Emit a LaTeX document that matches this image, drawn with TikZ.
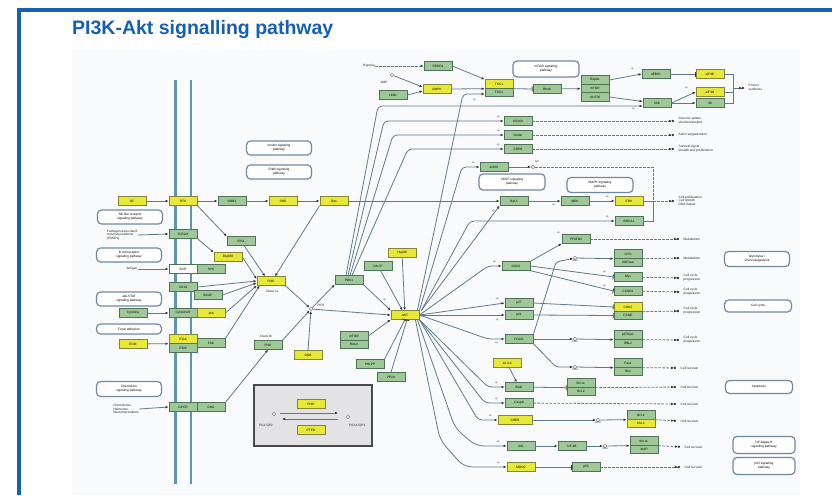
\documentclass[tikz,border=0pt]{standalone}
\usepackage{fontspec}
\setmainfont{Liberation Sans}
\usetikzlibrary{arrows.meta}
\definecolor{frameblue}{HTML}{1560B2}
\definecolor{bgarea}{HTML}{F9FAFC}
\definecolor{gfill}{HTML}{9FC898}
\definecolor{gdraw}{HTML}{4E7358}
\definecolor{yfill}{HTML}{E8E838}
\definecolor{ydraw}{HTML}{85853A}
\definecolor{linec}{HTML}{5F7A8C}
\definecolor{memc}{HTML}{5E97AC}
\definecolor{pwdraw}{HTML}{7089A0}
\definecolor{legfill}{HTML}{E3E3E6}
\definecolor{legdraw}{HTML}{4A4A4E}
\tikzset{
  kfont/.style={font=\fontsize{3.2}{3.7}\selectfont},
  kbox/.style={kfont, line width=0.85pt, minimum width=28pt, minimum height=8.5pt, inner sep=0.3pt},
  kg/.style={kbox, draw=gdraw, fill=gfill},
  ky/.style={kbox, draw=ydraw, fill=yfill},
  kw/.style={kbox, draw=gdraw, fill=white},
  kpw/.style={kfont, draw=pwdraw, line width=1.2pt, rounded corners=4pt, fill=white, minimum width=65pt, minimum height=14pt, align=center, inner sep=1pt},
  klbl/.style={kfont, align=left, inner sep=0.5pt, text=black!85},
  kpl/.style={font=\fontsize{2.6}{3}\selectfont, inner sep=0.2pt, text=black!80},
  kcirc/.style={circle, draw=gray, fill=white, line width=0.5pt, minimum size=3.6pt, inner sep=0pt},
  kdna/.style={kcirc, label={[kpl, yshift=0.5pt]below:DNA}},
  kconn/.style={draw=linec, line width=0.8pt},
  karr/.style={kconn, -{Latex[length=3pt,width=2.6pt,color=black!80]}},
  kinh/.style={kconn, -{Bar[width=5pt,line width=0.8pt,color=black!80]}},
  kdsh/.style={kconn, dash pattern=on 2.5pt off 1.5pt, shorten >=4pt, -{Latex[length=2.6pt,width=2.4pt,color=black!80] Circle[length=2.2pt,color=black!80]}},
}
\begin{document}
\begin{tikzpicture}[x=1pt,y=-1pt]
\useasboundingbox (0,0) rectangle (832,495);
\fill[white] (0,0) rectangle (832,495);
\fill[bgarea] (72,50) rectangle (800,495);
\fill[frameblue] (17,8.5) rectangle (832,12);
\fill[frameblue] (17,8.5) rectangle (21,495);
\node[anchor=base west, inner sep=0, text=frameblue, font=\fontsize{19.5}{22}\selectfont\bfseries] (title) at (72,35) {PI3K-Akt signalling pathway};

% membrane
\draw[memc, line width=2.3pt] (175.5,80) -- (175.5,484);
\draw[memc, line width=2.3pt] (191,80) -- (191,484);

% ---------- left side ----------
\node[ky] (gf) at (132,201) {GF};
\node[ky] (rtk) at (183,201) {RTK};
\node[kg] (grb2) at (232,201) {GRB2};
\node[ky] (sos) at (283,201) {SOS};
\node[ky] (ras) at (334,201) {Ras};
\node[kpw] (insp) at (279,148) {Insulin signaling\\pathway};
\node[kpw] (erbbp) at (279,172) {ErbB signaling\\pathway};
\node[kpw] (tlrp) at (130,217) {Toll-like receptor\\signaling pathway};
\node[klbl] (pamp) at (122,235) {Pathogen-associated\\molecular patterns\\(PAMPs)};
\node[kg] (tlr) at (183,234) {TLR2/4};
\node[kg] (irs) at (241,241) {IRS1};
\node[ky] (myd) at (228,257) {MyD88};
\node[kpw] (bcrp) at (129,255) {B cell receptor\\signaling pathway};
\node[klbl] (antigen) at (132,269) {Antigen};
\node[kw] (bcr) at (183,269) {BCR};
\node[kg] (syk) at (211,269) {SYK};
\node[kg] (cd19) at (183,287) {CD19};
\node[kg] (bcap) at (208,295) {BCAP};
\node[kpw] (jakp) at (129,299) {Jak-STAT\\signaling pathway};
\node[kg] (cyt) at (133,313) {Cytokine};
\node[kg] (cytr) at (183,313) {CytokineR};
\node[ky] (jak) at (211,313) {JAK};
\node[kpw, minimum height=10pt] (fap) at (129,329) {Focal adhesion};
\node[ky] (ecm) at (133,344) {ECM};
\node[ky] (itga) at (183,339) {ITGA};
\node[kg] (itgb) at (183,348) {ITGB};
\node[kg] (fak) at (211,343) {FAK};
\node[ky] (pi3k) at (271,281) {PI3K};
\node[klbl] (cIa) at (272,291) {Class Ia};
\node[kcirc] (pip3) at (311,309) {};
\node[klbl] (pip3l) at (321,305) {PIP3};
\node[klbl] (cIb) at (266,336) {Class Ib};
\node[kg] (pi3kb) at (268,345) {PI3K};
\node[ky] (gnb) at (308,355) {GNB};
\node[kpw, minimum height=15pt] (chemp) at (129,389) {Chemokine\\signaling pathway};
\node[klbl] (chemtxt) at (126,409) {Chemokines,\\Hormones,\\Neurotransmitters};
\node[kg] (gpcr) at (183,407) {GPCR};
\node[kg] (gng) at (211,407) {GNG};

% legend
\node[draw=legdraw, fill=legfill, line width=1.8pt, minimum width=118pt, minimum height=61pt, inner sep=0] (legend) at (313,415.5) {};
\node[ky] (lpi3k) at (311,404) {PI3K};
\node[ky] (lpten) at (311,430) {PTEN};
\node[kcirc] (pL) at (274,414) {};
\node[kcirc] (pR) at (348,417) {};
\node[klbl] (pLl) at (266,426) {PI(4,5)P2};
\node[klbl] (pRl) at (357,426) {PI(3,4,5)P3};
\coordinate (a1) at (280,413);
\coordinate (a2) at (338,413);
\coordinate (b1) at (338,419);
\coordinate (b2) at (282,419);
\draw[karr] (a1) -- (a2);
\draw[karr] (b1) -- (b2);

% ---------- centre ----------
\node[kg] (pdk1) at (349,280) {PDK1};
\node[ky] (akt) at (405,315) {AKT};
\node[ky] (hsp) at (402,253) {Hsp90};
\node[kg] (cdc) at (378,266) {Cdc37};
\node[kg] (mtor2a) at (354,336) {mTOR};
\node[kg] (mtor2b) at (354,344.5) {Rictor};
\node[kg] (phlpp) at (370,364) {PHLPP};
\node[kg] (pp2a) at (391,377) {PP2A};

% ---------- top ----------
\node[klbl] (hyp) at (369,66) {Hypoxia};
\node[kg] (redd) at (438,66) {REDD1};
\node[kcirc] (amp) at (392,75) {};
\node[klbl] (ampl) at (384,82) {AMP};
\node[kg] (lkb) at (393,95) {LKB1};
\node[ky] (ampk) at (437,89) {AMPK};
\node[ky] (tsc1) at (499,84) {TSC1};
\node[kg] (tsc2) at (499,92.5) {TSC2};
\node[kpw, minimum width=66pt, minimum height=16pt] (mtorp) at (546,69) {mTOR signaling\\pathway};
\node[kg] (rheb) at (547,89) {Rheb};
\node[kg] (rap) at (595,80) {Raptor};
\node[kg] (mtor) at (595,88.5) {mTOR};
\node[kg] (gbl) at (595,97) {mLST8};
\node[kg] (ebp) at (656,74) {4EBP1};
\node[ky] (eif4e) at (710,74) {eIF4E};
\node[ky] (eif4b) at (710,92) {eIF4B};
\node[kg] (s6k) at (657,103) {S6K};
\node[kg] (s6) at (710,103) {S6};
\coordinate (br1) at (733,88);
\node[klbl, anchor=west] (prot) at (748,88) {Protein\\synthesis};

\node[kg] (as160) at (518,121) {AS160};
\node[kg] (gird) at (518,135) {Girdin};
\node[kg] (creb1) at (518,149) {CREB};
\node[klbl, anchor=west] (glu) at (678,121) {Glucose uptake\\Vesicle transport};
\node[klbl, anchor=west] (act) at (678,135) {Actin reorganization};
\node[klbl, anchor=west] (surv) at (678,149) {Survival signal\\Growth and proliferation};

\node[kg] (enos) at (494,167) {eNOS};
\node[kcirc] (nodot) at (533,167) {};
\node[kpl] (nol) at (537,162) {NO};
\node[kpw, minimum width=66pt, minimum height=16pt] (vegfp) at (512,182) {VEGF signaling\\pathway};
\node[kpw, minimum width=66pt, minimum height=15pt] (mapkp) at (600,185) {MAPK signaling\\pathway};
\node[kg] (raf) at (514,201) {Raf-1};
\node[kg] (mek) at (575,201) {MEK};
\node[ky] (erk) at (629,201) {ERK};
\node[kg] (brca) at (629,221) {BRCA1};
\coordinate (brmid) at (653,201);
\node[klbl, anchor=west] (prolif) at (678,201) {Cell proliferation\\Cell growth\\DNA Repair};
\node[kg] (pfk) at (576,239) {PFKFB2};
\node[klbl, anchor=west] (meta1) at (683,239) {Metabolism};

% ---------- right middle ----------
\node[kg] (gsk) at (516,266) {GSK3};
\node[kdna] (d1) at (575,258) {};
\node[kg] (gys) at (628,254) {GYS};
\node[kg] (g6p) at (628,262.5) {G6Pase};
\node[klbl, anchor=west] (meta2) at (683,258) {Metabolism};
\node[kpw, minimum height=15pt] (glyp) at (757,259) {Glycolysis /\\Gluconeogenesis};
\node[kg] (myc) at (628,277) {Myc};
\node[kg] (ccnd) at (628,291) {CCND1};
\node[ky] (cdk2) at (628,307) {CDK2};
\node[kg] (ccne) at (628,315.5) {CCNE};
\node[klbl, anchor=west] (cc1) at (683,278) {Cell cycle\\progression};
\node[klbl, anchor=west] (cc2) at (683,292) {Cell cycle\\progression};
\node[klbl, anchor=west] (cc3) at (683,311) {Cell cycle\\progression};
\node[kpw, minimum width=67pt, minimum height=12pt] (ccp) at (758,306) {Cell cycle};
\node[kg] (p27) at (519,303) {p27};
\node[kg] (p21) at (519,315) {p21};
\node[kg] (foxo) at (519,339) {FOXO};
\node[kdna] (d2) at (575,339) {};
\node[kg] (kip) at (628,335) {p27Kip1};
\node[kg] (rbl) at (628,343.5) {RBL2};
\node[klbl, anchor=west] (cc4) at (683,340) {Cell cycle\\progression};
\node[kdna] (d3) at (575,367) {};
\node[kg] (fasl) at (628,363) {FasL};
\node[kg] (bim) at (628,371.5) {Bim};
\node[klbl, anchor=west] (cs1) at (680,368) {Cell survival};
\node[ky] (y1433) at (507,363) {14-3-3};
\node[kg] (bad) at (519,387) {BAD};
\node[kg] (bclxl) at (581,383) {Bcl-xL};
\node[kg] (bcl2) at (581,391.5) {Bcl-2};
\node[klbl, anchor=west] (cs2) at (680,387) {Cell survival};
\node[kpw, minimum width=67pt, minimum height=13pt] (apop) at (759,387) {Apoptosis};
\node[kg] (casp9) at (519,403) {Casp9};
\node[klbl, anchor=west] (cs3) at (680,404) {Cell survival};
\node[ky, minimum width=34pt] (creb) at (515,420) {CREB};
\node[kdna] (d4) at (598,420) {};
\node[kg] (bcl2b) at (641,415) {Bcl-2};
\node[ky] (mcl) at (641,423.5) {Mcl-1};
\node[klbl, anchor=west] (cs4) at (680,421) {Cell survival};
\node[kg] (ikk) at (521,446) {IKK};
\node[kg] (nfkb) at (572,446) {NF-kB};
\node[kdna] (d5) at (605,446) {};
\node[kg] (bclxl2) at (644,441) {Bcl-xL};
\node[kg] (xiap) at (644,449.5) {XIAP};
\node[klbl, anchor=west] (cs5) at (684,447) {Cell survival};
\node[kpw, minimum width=62pt, minimum height=17pt] (nfkbp) at (764,445) {NF-kappa B\\signaling pathway};
\node[ky] (mdm2) at (521,467) {MDM2};
\node[kg] (p53) at (586,467) {p53};
\node[klbl, anchor=west] (cs6) at (684,467) {Cell survival};
\node[kpw, minimum width=62pt, minimum height=17pt] (p53p) at (764,466) {p53 signaling\\pathway};

% ---------- connectors: left ----------
\draw[karr] (gf) -- (rtk);
\draw[karr] (rtk) -- (grb2);
\draw[karr] (grb2) -- (sos);
\draw[karr] (sos) -- (ras);
\draw[karr] (ras) -- (raf);
\draw[karr] (ras.south west) -- ([xshift=4pt]pi3k.north);
\draw[karr] (rtk.south east) -- (irs.north west);
\draw[karr] (irs) -- ([xshift=-6pt]pi3k.north);
\draw[karr] (pamp.east) -- (tlr.west);
\draw[karr] (tlr.south east) -- (myd.north west);
\draw[karr] (myd.east) -- ([yshift=2pt]pi3k.west);
\draw[karr] (antigen) -- (bcr);
\draw[karr] (cd19.east) -- ([yshift=0pt]pi3k.west);
\draw[karr] (bcap.east) -- ([yshift=-2pt]pi3k.west);
\draw[karr] (cyt) -- (cytr);
\draw[karr] (jak.east) -- (pi3k.south west);
\draw[karr] (ecm) -- (itga.south west);
\draw[karr] (fak.north east) -- ([xshift=3pt]pi3k.south west);
\draw[karr] (chemtxt.east) -- (gpcr.west);
\draw[karr] (gng.north east) -- (pi3kb.south);
\draw[karr] (pi3k.south east) -- (pip3);
\draw[karr] (pi3kb.north east) -- (pip3);
\draw[karr] (gnb.north) -- (pip3);
\draw[karr] (pip3) -- (pdk1.south west);
\draw[karr] (pip3) -- (akt.west);
\draw[karr] (pdk1.south east) -- (akt.north west);
\draw[karr] (hsp) -- (akt);
\draw[karr] (cdc) -- (akt);
\draw[karr] (mtor2a.east) -- (akt.south west);
\draw[kinh] (phlpp.north east) -- (akt.south);
\draw[kinh] (pp2a.north) -- ([xshift=2pt]akt.south);
\node[kpl] (pp0) at (384,300) {+p};

% ---------- connectors: top ----------
\draw[kconn, dash pattern=on 2.5pt off 1.5pt, -{Latex[length=3pt,width=2.6pt,color=black!80]}] (hyp) -- (redd);
\draw[karr] (redd.east) -- (tsc1.north west);
\draw[karr] (amp) -- ([yshift=2pt]ampk.west);
\draw[karr] (lkb.east) -- ([yshift=-2pt]ampk.west);
\draw[karr] (ampk.east) -- (tsc1.south west);
\draw[kinh] (tsc1.south east) -- (rheb.west);
\draw[karr] (rheb) -- (mtor);
\draw[karr] (rap.east) -- (ebp.west);
\draw[karr] (gbl.east) -- ([yshift=1.5pt]s6k.west);
\draw[kinh] (ebp) -- (eif4e);
\draw[karr] (s6k.east) -- (eif4b.west);
\draw[karr] (s6k) -- (s6);
\draw[kconn] (eif4e.east) -| (br1);
\draw[kconn] (s6.east) -| (br1);
\draw[kconn] (eif4b.east) -- (eif4b.east -| br1);
\draw[kdsh, dash pattern=] (br1) -- (prot.west);
\node[kpl] (pp1) at (632,69) {+p};
\node[kpl] (pp2) at (633,109) {+p};
\node[kpl] (pp3) at (686,88) {+p};

\coordinate (k1) at (378,106);
\coordinate (k2) at (384,121);
\coordinate (k3) at (393,135);
\coordinate (k4) at (408,149);
\draw[karr, rounded corners=4pt] ([xshift=-3pt]pdk1.north) -- (k1) -- (k1 -| s6k.west);
\draw[karr, rounded corners=4pt] ([xshift=-1pt]pdk1.north) -- (k2) -- (as160.west);
\draw[karr, rounded corners=4pt] ([xshift=1pt]pdk1.north) -- (k3) -- (gird.west);
\draw[karr, rounded corners=4pt] ([xshift=3pt]pdk1.north) -- (k4) -- (creb1.west);
\node[kpl] (pp4) at (498,117) {+p};
\node[kpl] (pp5) at (498,131) {+p};
\node[kpl] (pp6) at (498,145) {+p};
\draw[kdsh] (as160) -- (glu.west);
\draw[kdsh] (gird) -- (act.west);
\draw[kdsh] (creb1) -- (surv.west);

\coordinate (k5) at (463,94);
\coordinate (k6) at (462,167);
\coordinate (k8) at (470,221);
\coordinate (k9) at (488,266);
\draw[karr, rounded corners=4pt] ([xshift=-2pt]akt.north east) -- (k5) -- (k5 -| tsc2.west);
\draw[karr, rounded corners=4pt] (akt.north east) -- (k6) -- (enos.west);
\draw[karr] ([xshift=2pt]akt.north east) -- (raf.south west);
\draw[karr, rounded corners=4pt] ([xshift=2pt]akt.north east) -- (k8) -- (brca.west);
\draw[karr, rounded corners=4pt] (akt.east) -- (k9) -- (gsk.west);
\node[kpl] (pp7) at (474,100) {+p};
\node[kpl] (pp8) at (473,163) {+p};
\node[kpl] (pp9) at (493,211) {+p};
\node[kpl] (pp10) at (607,217) {+p};
\node[kpl] (pp11) at (494,262) {+p};

\draw[karr] (enos) -- (nodot);
\draw[kconn, dash pattern=on 2.5pt off 1.5pt] (nodot) -| (brmid);
\draw[karr] (raf) -- (mek);
\draw[karr] (mek) -- (erk);
\draw[kconn] (erk) -- (brmid);
\draw[kconn] (brca.east) -| (brmid);
\draw[kdsh] (brmid) -- (prolif.west);
\node[kpl] (pp12) at (553,205) {+p};
\node[kpl] (pp13) at (607,197) {+p};

% ---------- connectors: right middle ----------
\draw[karr] (gsk.north east) -- (pfk.south west);
\node[kpl] (pp14) at (558,233) {+p};
\draw[kdsh] (pfk) -- (meta1.west);
\draw[kinh] (gsk.east) -- (myc.west);
\draw[kinh] (gsk.south east) -- (ccnd.west);
\node[kpl] (pp15) at (604,272) {+p};
\node[kpl] (pp16) at (604,286) {+p};
\draw[karr] (d1) -- (gys.south west);
\draw[kdsh] (gys.south east) -- (meta2.west);
\draw[kdsh] (myc) -- (cc1.west);
\draw[kdsh] (ccnd) -- (cc2.west);
\draw[kdsh] (cdk2.south east) -- (cc3.west);
\draw[kinh] (p27.east) -- (cdk2.west);
\draw[kinh] (p21.east) -- (ccne.west);

\coordinate (k10) at (556,262);
\coordinate (k11) at (556,367);
\draw[karr, rounded corners=3pt] (foxo.north east) -- (k10) -- (d1);
\draw[karr] (foxo) -- (d2);
\draw[karr, rounded corners=3pt] (foxo.south east) -- (k11) -- (d3);
\draw[karr] (d2) -- (kip.south west);
\draw[karr] (d3) -- (fasl.south west);
\draw[kdsh] (kip.south east) -- (cc4.west);
\draw[kdsh] (fasl.south east) -- (cs1.west);

\draw[karr] (y1433) -- (bad);
\draw[kinh] (bad) -- (bclxl.south west);
\draw[kdsh] (bclxl.south east) -- (cs2.west);
\draw[kdsh] (casp9) -- (cs3.west);
\draw[karr] (creb) -- (d4);
\draw[karr] (d4) -- (bcl2b.south west);
\draw[kdsh] (bcl2b.south east) -- (cs4.west);
\draw[karr] (ikk) -- (nfkb);
\draw[karr] (nfkb) -- (d5);
\draw[karr] (d5) -- (bclxl2.south west);
\draw[kdsh] (bclxl2.south east) -- (cs5.west);
\draw[kinh] (mdm2) -- (p53);
\draw[kdsh] (p53) -- (cs6.west);

% AKT fan to the right
\coordinate (k12) at (488,339);
\coordinate (k13) at (488,387);
\coordinate (k14) at (485,403);
\coordinate (k15) at (478,420);
\coordinate (k16a) at (455,428);
\coordinate (k16b) at (476,446);
\coordinate (k17a) at (440,440);
\coordinate (k17b) at (464,467);
\draw[karr] (akt.east) -- (p27.west);
\draw[karr] (akt.east) -- (p21.west);
\draw[karr, rounded corners=4pt] (akt.east) -- (k12) -- (foxo.west);
\draw[karr, rounded corners=4pt] (akt.south east) -- (k13) -- (bad.west);
\draw[karr, rounded corners=4pt] (akt.south east) -- (k14) -- (casp9.west);
\draw[karr, rounded corners=4pt] (akt.south east) -- (k15) -- (creb.west);
\draw[karr, rounded corners=8pt] ([xshift=-2pt]akt.south east) -- (k16a) -- (k16b) -- (ikk.west);
\draw[karr, rounded corners=8pt] ([xshift=-4pt]akt.south east) -- (k17a) -- (k17b) -- (mdm2.west);
\node[kpl] (pp17) at (497,299) {+p};
\node[kpl] (pp18) at (497,320) {+p};
\node[kpl] (pp19) at (496,343) {+p};
\node[kpl] (pp20) at (496,383) {+p};
\node[kpl] (pp21) at (496,399) {+p};
\node[kpl] (pp22) at (490,416) {+p};
\node[kpl] (pp23) at (498,442) {+p};
\node[kpl] (pp24) at (498,463) {+p};
\end{tikzpicture}
\end{document}
